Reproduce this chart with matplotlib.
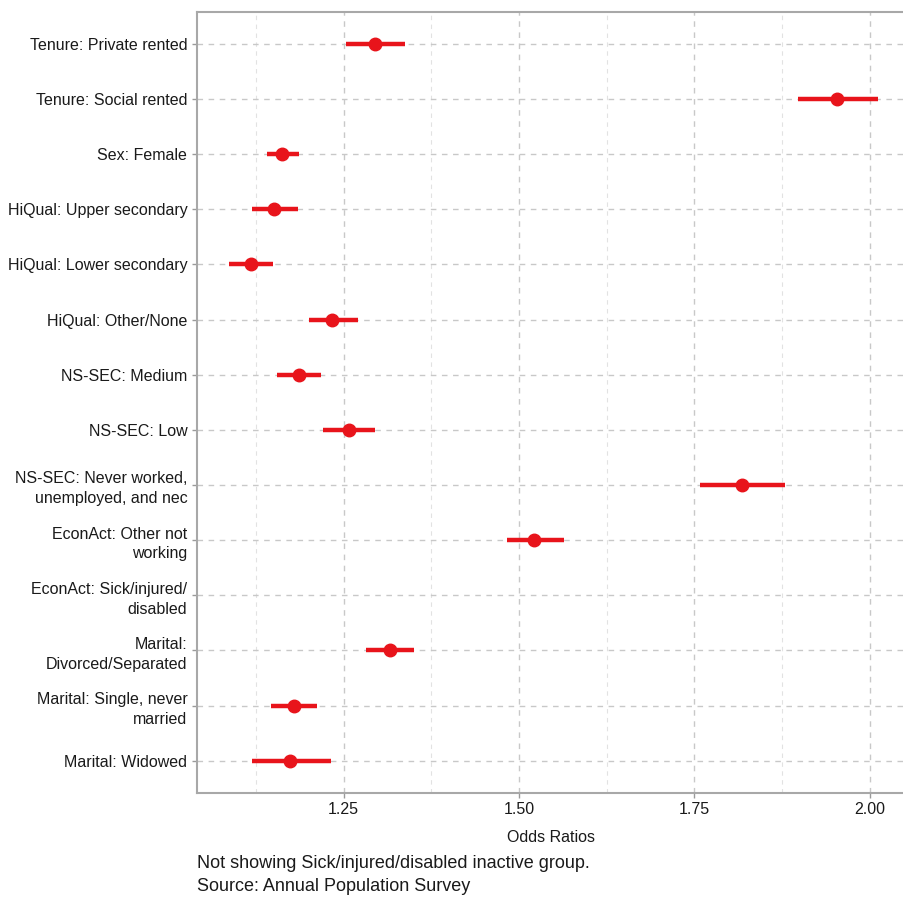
import matplotlib.pyplot as plt
import numpy as np

plt.rcParams['font.family'] = ['Liberation Sans', 'DejaVu Sans']

labels = ["Tenure: Private rented", "Tenure: Social rented", "Sex: Female",
          "HiQual: Upper secondary", "HiQual: Lower secondary", "HiQual: Other/None",
          "NS-SEC: Medium", "NS-SEC: Low", "NS-SEC: Never worked,\nunemployed, and nec",
          "EconAct: Other not\nworking", "EconAct: Sick/injured/\ndisabled",
          "Marital:\nDivorced/Separated", "Marital: Single, never\nmarried", "Marital: Widowed"]
odds = [1.295, 1.953, 1.162, 1.151, 1.118, 1.234, 1.186, 1.257, 1.818, 1.522, np.nan, 1.316, 1.179, 1.174]
lower = [1.254, 1.898, 1.140, 1.119, 1.087, 1.200, 1.155, 1.221, 1.758, 1.483, np.nan, 1.282, 1.146, 1.119]
upper = [1.337, 2.012, 1.186, 1.185, 1.149, 1.270, 1.217, 1.295, 1.880, 1.564, np.nan, 1.351, 1.212, 1.232]

red = '#e8141b'
grid_col = '#c8c8c8'

fig = plt.figure(figsize=(9.04, 9.06), dpi=100)
ax = fig.add_axes([0.218, 0.125, 0.782, 0.862])

ypos = np.arange(len(labels))
ax.hlines(ypos, lower, upper, color=red, linewidth=3.2, zorder=3)
ax.plot(odds, ypos, 'o', color=red, markersize=9, zorder=4)

ax.set_yticks(ypos)
ax.set_yticklabels(labels, fontsize=11.5, color='#1a1a1a', linespacing=1.4)
ax.set_ylim(13.58, -0.58)

ax.set_xlim(1.041, 2.049)
ax.set_xticks([1.25, 1.5, 1.75, 2.0])
ax.set_xticklabels(["1.25", "1.50", "1.75", "2.00"], fontsize=11.5, color='#1a1a1a')
ax.set_xticks([1.125, 1.375, 1.625, 1.875], minor=True)
ax.tick_params(axis='x', which='minor', length=0)
ax.tick_params(axis='both', which='major', length=3.5, color='#9a9a9a', width=1)

ax.grid(True, which='major', axis='both', color=grid_col, linestyle=(0, (4, 4)), linewidth=1)
ax.grid(True, which='minor', axis='x', color='#e2e2e2', linestyle=(0, (4, 4)), linewidth=0.8)
ax.set_axisbelow(True)

for s in ['left', 'bottom', 'top']:
    ax.spines[s].set_color('#a8a8a8')
    ax.spines[s].set_linewidth(1.5)
ax.spines['right'].set_visible(False)

ax.set_xlabel("Odds Ratios", fontsize=11.5, color='#1a1a1a', labelpad=9)

fig.text(0.218, 0.034, "Not showing Sick/injured/disabled inactive group.\nSource: Annual Population Survey",
         fontsize=13, color='#1a1a1a', ha='left', va='center', linespacing=1.5)

fig.savefig("out.png", dpi=100)
